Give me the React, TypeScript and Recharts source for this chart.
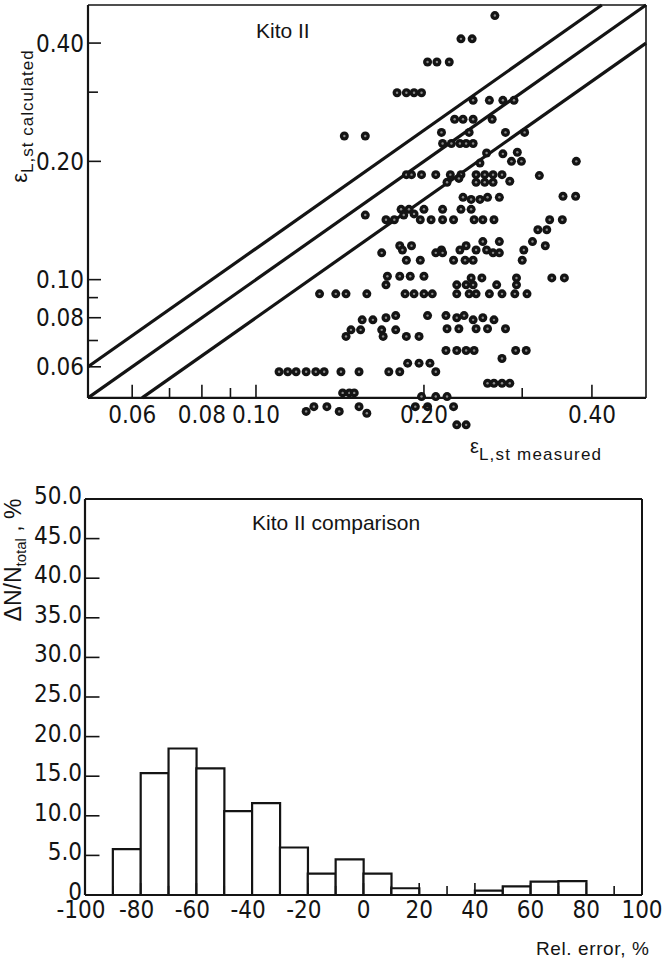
import React from 'react';
import { ScatterChart, Scatter, XAxis, YAxis, ReferenceLine, BarChart, Bar } from 'recharts';

// ---------- Top chart data (Kito II: calculated vs measured) ----------
const majorLogTicks = [0.06, 0.08, 0.1, 0.2, 0.4];
const minorLogTicks = [0.07, 0.09, 0.3];
const logDomainX: [number, number] = [0.05, 0.5];
const logDomainY: [number, number] = [0.04, 0.5];
const frameMin = 0.05;
const frameMax = 0.5;
const bandFactors = [1.2, 1.0, 0.8];

// [measured, calculated]
const kitoPoints: [number, number][] = [
  [0.268, 0.47],
  [0.233, 0.41], [0.244, 0.41],
  [0.203, 0.358], [0.211, 0.358], [0.222, 0.358],
  [0.179, 0.299], [0.186, 0.299], [0.192, 0.299], [0.198, 0.299],
  [0.245, 0.286], [0.262, 0.286], [0.277, 0.286], [0.29, 0.286],
  [0.227, 0.256], [0.235, 0.256], [0.245, 0.256], [0.265, 0.256],
  [0.144, 0.232], [0.157, 0.232],
  [0.215, 0.237], [0.241, 0.237], [0.28, 0.237], [0.303, 0.237],
  [0.216, 0.222], [0.224, 0.222], [0.232, 0.222], [0.238, 0.222], [0.245, 0.222],
  [0.259, 0.21], [0.277, 0.209], [0.294, 0.211], [0.287, 0.2], [0.299, 0.2], [0.375, 0.2], [0.252, 0.198],
  [0.186, 0.185], [0.19, 0.185], [0.198, 0.185], [0.21, 0.185], [0.223, 0.185], [0.233, 0.185],
  [0.248, 0.185], [0.257, 0.185], [0.266, 0.185], [0.276, 0.185], [0.322, 0.184], [0.285, 0.178],
  [0.22, 0.177], [0.231, 0.181], [0.248, 0.177], [0.257, 0.177], [0.266, 0.177],
  [0.235, 0.162], [0.243, 0.16], [0.252, 0.16], [0.26, 0.162], [0.273, 0.162], [0.355, 0.163], [0.374, 0.163],
  [0.182, 0.151], [0.188, 0.151], [0.2, 0.151], [0.216, 0.151], [0.233, 0.151], [0.243, 0.151],
  [0.157, 0.146], [0.184, 0.146], [0.192, 0.147],
  [0.171, 0.142], [0.177, 0.142], [0.197, 0.142], [0.206, 0.142], [0.216, 0.142], [0.226, 0.142],
  [0.246, 0.142], [0.255, 0.142], [0.267, 0.142], [0.336, 0.142], [0.354, 0.142],
  [0.32, 0.134], [0.332, 0.134],
  [0.255, 0.125], [0.273, 0.125], [0.313, 0.125],
  [0.181, 0.122], [0.19, 0.122], [0.33, 0.122], [0.238, 0.122],
  [0.183, 0.119], [0.215, 0.119], [0.232, 0.119], [0.248, 0.119], [0.259, 0.119], [0.302, 0.119],
  [0.168, 0.117], [0.21, 0.117], [0.216, 0.117], [0.266, 0.117], [0.273, 0.117],
  [0.186, 0.112], [0.197, 0.112], [0.226, 0.112], [0.237, 0.112], [0.245, 0.112], [0.3, 0.112],
  [0.243, 0.101], [0.254, 0.101], [0.293, 0.101], [0.339, 0.101], [0.357, 0.101],
  [0.172, 0.102], [0.181, 0.102], [0.189, 0.102], [0.2, 0.102],
  [0.171, 0.097], [0.229, 0.097], [0.238, 0.097], [0.245, 0.097], [0.27, 0.097], [0.293, 0.097],
  [0.13, 0.092], [0.139, 0.092], [0.145, 0.092], [0.158, 0.092], [0.185, 0.092], [0.192, 0.092],
  [0.2, 0.092], [0.207, 0.092], [0.229, 0.092], [0.241, 0.092], [0.248, 0.092], [0.262, 0.092],
  [0.276, 0.092], [0.291, 0.092], [0.306, 0.092],
  [0.155, 0.079], [0.162, 0.079], [0.245, 0.079], [0.267, 0.079], [0.171, 0.08], [0.229, 0.08],
  [0.255, 0.08], [0.178, 0.081], [0.203, 0.081], [0.219, 0.081], [0.236, 0.081],
  [0.22, 0.075], [0.231, 0.075], [0.248, 0.075], [0.26, 0.075], [0.28, 0.075],
  [0.148, 0.0745], [0.154, 0.0745], [0.168, 0.0745], [0.178, 0.0745],
  [0.145, 0.0717], [0.169, 0.0717], [0.186, 0.0717], [0.196, 0.0717],
  [0.219, 0.066], [0.229, 0.066], [0.238, 0.066], [0.246, 0.066], [0.292, 0.066], [0.305, 0.066], [0.276, 0.063],
  [0.187, 0.0613], [0.196, 0.0613], [0.205, 0.0613],
  [0.11, 0.0583], [0.114, 0.0583], [0.118, 0.0583], [0.123, 0.0583], [0.128, 0.0583], [0.1325, 0.0583],
  [0.142, 0.0583], [0.153, 0.0583], [0.173, 0.0583], [0.181, 0.0583], [0.21, 0.0583],
  [0.26, 0.0545], [0.267, 0.0545], [0.276, 0.0545], [0.285, 0.0545],
  [0.143, 0.0515], [0.147, 0.0515], [0.15, 0.0515],
  [0.198, 0.0504], [0.21, 0.0504], [0.22, 0.0504],
  [0.127, 0.0475], [0.134, 0.0475], [0.153, 0.0475], [0.193, 0.0475], [0.203, 0.0475], [0.226, 0.0475],
  [0.123, 0.0462], [0.141, 0.0462], [0.158, 0.0457],
  [0.229, 0.0427], [0.238, 0.0427],
];

// ---------- Bottom chart data (Kito II comparison histogram) ----------
const binStarts = [-100, -90, -80, -70, -60, -50, -40, -30, -20, -10, 0, 10, 20, 30, 40, 50, 60, 70, 80, 90];
const binCenters = [-95, -85, -75, -65, -55, -45, -35, -25, -15, -5, 5, 15, 25, 35, 45, 55, 65, 75, 85, 95];
const binPercent = [0, 5.8, 15.4, 18.5, 16.0, 10.6, 11.6, 6.0, 2.7, 4.5, 2.7, 0.85, 0, 0, 0.55, 1.1, 1.7, 1.75, 0, 0];
const errorTicks = [-100, -80, -60, -40, -20, 0, 20, 40, 60, 80, 100];
const errorMinorTicks = [-90, -70, -50, -30, -10, 10, 30, 50, 70, 90];
const percentTicks = [0, 5, 10, 15, 20, 25, 30, 35, 40, 45, 50];

const INK = '#141414';
const NUM_FONT = "'Liberation Sans Narrow', 'DejaVu Sans Condensed', 'Liberation Sans', Arial, sans-serif";
const TXT_FONT = "'Liberation Sans', Arial, sans-serif";

const scatterData = kitoPoints.map(([m, c]) => ({ measured: m, calculated: c }));
const histData = binStarts.map((b, i) => ({ bin: String(b), center: binCenters[i], pct: binPercent[i] }));

const Dot = (props: any) => {
  const { cx, cy } = props;
  if (cx == null || cy == null) return null;
  return (
    <g>
      <circle cx={cx} cy={cy} r={4.5} fill={INK} />
      <circle cx={cx} cy={cy} r={1.2} fill="#8a8a8a" />
    </g>
  );
};

const LogXTick = (props: any) => {
  const { x, y, payload } = props;
  return (
    <text x={x} y={y - 15} textAnchor="middle" fontFamily={NUM_FONT} fontSize={24} fill={INK}>
      {Number(payload.value).toFixed(2)}
    </text>
  );
};

const ErrXTick = (props: any) => {
  const { x, y, payload } = props;
  const v = Number(payload.value);
  return (
    <text x={x} y={y + 21} dx={v < 0 ? -4 : 0} textAnchor="middle" fontFamily={NUM_FONT} fontSize={24} fill={INK}>
      {v < 0 ? '-' + Math.abs(v) : String(v)}
    </text>
  );
};

const PctYTick = (props: any) => {
  const { x, y, payload } = props;
  const v = Number(payload.value);
  return (
    <text x={x} y={y + 5} textAnchor="end" fontFamily={NUM_FONT} fontSize={24} fill={INK}>
      {v === 0 ? '0' : v.toFixed(1)}
    </text>
  );
};

function ScatterPanel() {
  const frame = [
    { seg: [{ x: frameMin, y: frameMin }, { x: frameMax, y: frameMin }], w: 2.2 },
    { seg: [{ x: frameMin, y: frameMin }, { x: frameMin, y: frameMax }], w: 2.2 },
    { seg: [{ x: frameMin, y: frameMax }, { x: frameMax, y: frameMax }], w: 1.6 },
    { seg: [{ x: frameMax, y: frameMin }, { x: frameMax, y: frameMax }], w: 1.6 },
  ];
  const bands = bandFactors.map((f) => {
    const x0 = Math.max(frameMin, frameMin / f);
    const x1 = Math.min(frameMax, frameMax / f);
    return [{ x: x0, y: x0 * f }, { x: x1, y: x1 * f }];
  });
  const yTickSegs = [
    ...majorLogTicks.map((v) => [{ x: frameMin, y: v }, { x: frameMin * 1.055, y: v }]),
    ...minorLogTicks.map((v) => [{ x: frameMin, y: v }, { x: frameMin * 1.042, y: v }]),
  ];
  const xTickSegs = [
    ...majorLogTicks.map((v) => [{ x: v, y: frameMin }, { x: v, y: frameMin * 1.08 }]),
    ...minorLogTicks.map((v) => [{ x: v, y: frameMin }, { x: v, y: frameMin * 1.06 }]),
  ];
  return (
    <ScatterChart width={662} height={470} margin={{ top: 5, right: 16, left: 28, bottom: 4 }}>
      <XAxis
        type="number"
        dataKey="measured"
        scale="log"
        domain={logDomainX}
        ticks={majorLogTicks}
        interval={0}
        tickLine={false}
        axisLine={false}
        tickSize={0}
        tick={<LogXTick />}
        height={30}
      />
      <YAxis
        type="number"
        dataKey="calculated"
        scale="log"
        domain={logDomainY}
        ticks={majorLogTicks}
        interval={0}
        tickLine={false}
        axisLine={false}
        tickSize={0}
        tickMargin={4}
        width={60}
        tickFormatter={(v: number) => v.toFixed(2)}
        tick={{ fontFamily: NUM_FONT, fontSize: 24, fill: INK }}
      />
      {frame.map((f, i) => (
        <ReferenceLine key={'f' + i} segment={f.seg} stroke={INK} strokeWidth={f.w} ifOverflow="visible" />
      ))}
      {bands.map((s, i) => (
        <ReferenceLine key={'b' + i} segment={s} stroke={INK} strokeWidth={3.2} ifOverflow="visible" />
      ))}
      {yTickSegs.map((s, i) => (
        <ReferenceLine key={'yt' + i} segment={s} stroke={INK} strokeWidth={1.6} ifOverflow="visible" />
      ))}
      {xTickSegs.map((s, i) => (
        <ReferenceLine key={'xt' + i} segment={s} stroke={INK} strokeWidth={1.6} ifOverflow="visible" />
      ))}
      <Scatter data={scatterData} shape={<Dot />} isAnimationActive={false} />
      <text x={256} y={38} fontFamily={TXT_FONT} fontSize={21} fill={INK}>Kito II</text>
      <text x={470} y={453} fontFamily={TXT_FONT} fill={INK}>
        <tspan fontSize={20}>ε</tspan>
        <tspan fontSize={17} dy={7} letterSpacing={1.2}>L,st measured</tspan>
      </text>
      <text transform="translate(27,116) rotate(-90)" textAnchor="middle" fontFamily={TXT_FONT} fill={INK}>
        <tspan fontSize={22}>ε</tspan>
        <tspan fontSize={17} dy={6} letterSpacing={1}>L,st calculated</tspan>
      </text>
    </ScatterChart>
  );
}

function HistogramPanel() {
  const frame = [
    { seg: [{ x: -100, y: 0 }, { x: 100, y: 0 }], w: 2.2 },
    { seg: [{ x: -100, y: 0 }, { x: -100, y: 50 }], w: 2.2 },
    { seg: [{ x: -100, y: 50 }, { x: 100, y: 50 }], w: 2 },
    { seg: [{ x: 100, y: 0 }, { x: 100, y: 50 }], w: 2 },
  ];
  const xTickSegs = [
    ...errorTicks.filter((v) => Math.abs(v) < 100).map((v) => [{ x: v, y: 0 }, { x: v, y: 1.5 }]),
    ...errorMinorTicks.map((v) => [{ x: v, y: 0 }, { x: v, y: 1.15 }]),
  ];
  const yTickSegs = percentTicks
    .filter((v) => v > 0 && v < 50)
    .map((v) => [{ x: -100, y: v }, { x: -94.8, y: v }]);
  return (
    <BarChart
      width={662}
      height={492}
      data={histData}
      margin={{ top: 29, right: 20, left: 25, bottom: 37 }}
      barCategoryGap={0}
      barGap={0}
    >
      <XAxis xAxisId="bins" dataKey="bin" type="category" hide height={0} />
      <XAxis
        xAxisId="err"
        dataKey="center"
        type="number"
        domain={[-100, 100]}
        allowDataOverflow
        ticks={errorTicks}
        interval={0}
        tickLine={false}
        axisLine={false}
        tickSize={0}
        tick={<ErrXTick />}
        height={30}
      />
      <YAxis
        type="number"
        domain={[0, 50]}
        ticks={percentTicks}
        interval={0}
        tickLine={false}
        axisLine={false}
        tickSize={0}
        tickMargin={3}
        width={60}
        tick={<PctYTick />}
      />
      <Bar xAxisId="bins" dataKey="pct" fill="#ffffff" stroke={INK} strokeWidth={2.2} isAnimationActive={false} />
      {frame.map((f, i) => (
        <ReferenceLine key={'f' + i} xAxisId="err" segment={f.seg} stroke={INK} strokeWidth={f.w} ifOverflow="visible" />
      ))}
      {xTickSegs.map((s, i) => (
        <ReferenceLine key={'xt' + i} xAxisId="err" segment={s} stroke={INK} strokeWidth={1.6} ifOverflow="visible" />
      ))}
      {yTickSegs.map((s, i) => (
        <ReferenceLine key={'yt' + i} xAxisId="err" segment={s} stroke={INK} strokeWidth={1.6} ifOverflow="visible" />
      ))}
      <text x={252} y={60} fontFamily={TXT_FONT} fontSize={21} fill={INK}>Kito II comparison</text>
      <text x={536} y={485} fontFamily={TXT_FONT} fontSize={19} letterSpacing={0.6} fill={INK}>Rel. error, %</text>
      <text transform="translate(21,90) rotate(-90)" textAnchor="middle" fontFamily={TXT_FONT} fill={INK}>
        <tspan fontSize={23}>ΔN/N</tspan>
        <tspan fontSize={15} dy={5}>total</tspan>
        <tspan fontSize={23} dy={-5}> , %</tspan>
      </text>
    </BarChart>
  );
}

export default function App() {
  return (
    <div style={{ position: 'absolute', left: 0, top: 0, width: 662, height: 962, background: '#fff' }}>
      <div style={{ position: 'absolute', left: 0, top: 0 }}>
        <ScatterPanel />
      </div>
      <div style={{ position: 'absolute', left: 0, top: 470 }}>
        <HistogramPanel />
      </div>
    </div>
  );
}
